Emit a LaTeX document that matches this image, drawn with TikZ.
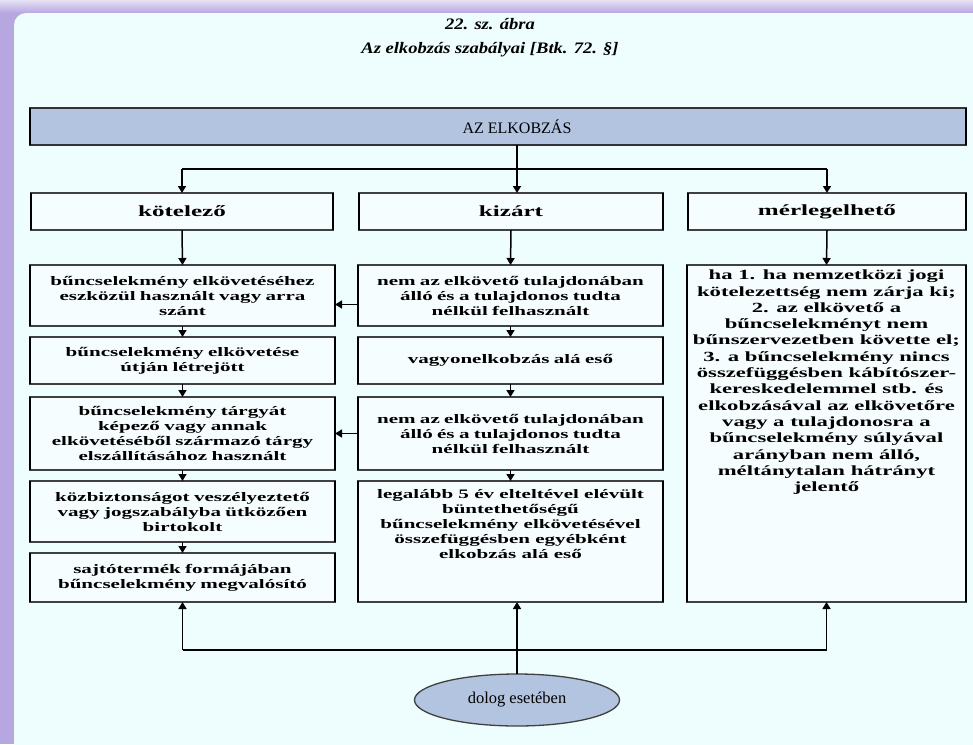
\documentclass[tikz,border=0pt]{standalone}
\usepackage{fontspec}
\setmainfont{Liberation Serif}
\newfontfamily\boxfont[FakeStretch=1.62]{Liberation Serif Bold}
\newfontfamily\titlefont[FakeStretch=1.16]{Liberation Serif Bold Italic}
\usetikzlibrary{arrows.meta,shapes.geometric}
\definecolor{bgc}{HTML}{EEFDFD}
\definecolor{framec}{HTML}{B7A7E0}
\definecolor{hdr}{HTML}{B3C4E0}
\definecolor{boxf}{HTML}{F6FDFE}
\tikzset{
  every node/.style={inner sep=0pt, outer sep=0pt},
  boxbase/.style={draw=black!75, line width=1.1pt, fill=boxf, align=center},
  lvtwo/.style={boxbase, font=\boxfont\fontsize{15.5}{18}\selectfont},
  lvthree/.style={boxbase, font=\boxfont\fontsize{13}{15}\selectfont},
  txt/.style={align=center, font=\boxfont\fontsize{13}{15}\selectfont},
  rtxt/.style={align=center, font=\boxfont\fontsize{14}{16.3}\selectfont},
  ttl/.style={font=\titlefont\fontsize{16}{18}\selectfont},
  arr/.style={-{Triangle[length=7pt,width=8pt]}, line width=1.5pt},
  conn/.style={line width=1.5pt},
  side/.style={line width=2.6pt, black}
}
\begin{document}
\begin{tikzpicture}[x=1pt,y=-1pt]
\useasboundingbox (0,0) rectangle (973,744);
% frame
\fill[framec] (0,0) rectangle (973,744);
\shade[top color=framec!35, bottom color=framec] (0,0) rectangle (973,13);
\fill[bgc, rounded corners=12] (14,13) rectangle (1000,770);
% title
\node[ttl] (t1) at (490,24) {22. sz. ábra};
\node[ttl] (t2) at (490,50) {Az elkobzás szabályai [Btk. 72. §]};
% top box
\node[draw=black!80, line width=1.1pt, fill=hdr, minimum width=936pt, minimum height=37pt] (top) at (498,126.5) {};
\node[font=\fontsize{16}{18}\selectfont] (topt) at (517,126.5) {AZ ELKOBZÁS};
% level 2
\node[lvtwo, minimum width=302pt, minimum height=37pt] (kot) at (182,211.5) {kötelező};
\node[lvtwo, minimum width=304pt, minimum height=37pt] (kiz) at (511,211.5) {kizárt};
\node[lvtwo, minimum width=278pt, minimum height=37pt] (mer) at (827,211.5) {mérlegelhető};
% left column
\node[lvthree, minimum width=305pt, text width=301pt, minimum height=61pt] (L1) at (182.5,295.5)
  {bűncselekmény elkövetéséhez\\eszközül használt vagy arra\\szánt};
\node[lvthree, minimum width=305pt, text width=301pt, minimum height=47pt] (L2) at (182.5,360.5)
  {bűncselekmény elkövetése\\útján létrejött};
\node[lvthree, minimum width=305pt, text width=301pt, minimum height=73pt] (L3) at (182.5,433.5)
  {bűncselekmény tárgyát\\képező vagy annak\\elkövetéséből származó tárgy\\elszállításához használt};
\node[lvthree, minimum width=305pt, text width=301pt, minimum height=61pt] (L4) at (182.5,511.5)
  {közbiztonságot veszélyeztető\\vagy jogszabályba ütközően\\birtokolt};
\node[lvthree, minimum width=305pt, text width=301pt, minimum height=49pt] (L5) at (182.5,577.5)
  {sajtótermék formájában\\bűncselekmény megvalósító};
% middle column
\node[lvthree, minimum width=305pt, text width=301pt, minimum height=61pt] (M1) at (510.5,295.5)
  {nem az elkövető tulajdonában\\álló és a tulajdonos tudta\\nélkül felhasznált};
\node[lvthree, minimum width=305pt, text width=301pt, minimum height=47pt] (M2) at (510.5,360.5)
  {vagyonelkobzás alá eső};
\node[lvthree, minimum width=305pt, text width=301pt, minimum height=73pt] (M3) at (510.5,433.5)
  {nem az elkövető tulajdonában\\álló és a tulajdonos tudta\\nélkül felhasznált};
\node[boxbase, minimum width=305pt, minimum height=121pt] (M4) at (510.5,541.5) {};
\node[txt, anchor=north] (M4t) at ([yshift=-8pt]M4.north)
  {legalább 5 év elteltével elévült\\büntethetőségű\\bűncselekmény elkövetésével\\összefüggésben egyébként\\elkobzás alá eső};
% right column
\node[boxbase, minimum width=279pt, minimum height=337pt] (R) at (826.5,433.5) {};
\node[rtxt, anchor=north] (Rt) at ([yshift=-5pt]R.north)
  {ha 1. ha nemzetközi jogi\\kötelezettség nem zárja ki;\\2. az elkövető a\\bűncselekményt nem\\bűnszervezetben követte el;\\3. a bűncselekmény nincs\\összefüggésben kábítószer-\\kereskedelemmel stb. és\\elkobzásával az elkövetőre\\vagy a tulajdonosra a\\bűncselekmény súlyával\\arányban nem álló,\\méltánytalan hátrányt\\jelentő};
% thick sides
\foreach \n in {top,kot,kiz,mer,L1,L2,L3,L4,L5,M1,M2,M3,M4,R}
  \draw[side] (\n.north west) -- (\n.south west) (\n.north east) -- (\n.south east);
% ellipse
\node[ellipse, draw=black!75, line width=1.3pt, fill=hdr, minimum width=205pt, minimum height=52pt,
      font=\fontsize{16.5}{18}\selectfont] (dol) at (517,700) {dolog esetében};
% top connectors
\coordinate (ht) at (517,169);
\draw[conn] (top.south -| ht) -- (ht);
\draw[conn] (ht -| kot.north) -- (ht -| mer.north);
\draw[arr] (ht -| kot.north) -- (kot.north);
\draw[arr] (ht) -- (ht |- kiz.north);
\draw[arr] (ht -| mer.north) -- (mer.north);
% level 2 to 3
\draw[arr] (kot.south) -- (L1.north);
\draw[arr] (kiz.south) -- (M1.north);
\draw[arr] (mer.south) -- (R.north);
% column chains
\draw[arr] (L1.south) -- (L2.north);
\draw[arr] (L2.south) -- (L3.north);
\draw[arr] (L3.south) -- (L4.north);
\draw[arr] (L4.south) -- (L5.north);
\draw[arr] (M1.south) -- (M2.north);
\draw[arr] (M2.south) -- (M3.north);
\draw[arr] (M3.south) -- (M4.north);
% horizontal arrows
\draw[arr] ([yshift=-9pt]M1.west) -- ([yshift=-9pt]M1.west -| L1.east);
\draw[arr] (M3.west) -- (M3.west -| L3.east);
% bottom connectors
\coordinate (hb) at (517,650);
\draw[conn] (hb -| L5.south) -- (hb -| R.south);
\draw[arr] (hb -| L5.south) -- (L5.south);
\draw[arr] (hb -| R.south) -- (R.south);
\draw[arr] (dol.north) -- (dol.north |- M4.south);
\end{tikzpicture}
\end{document}
